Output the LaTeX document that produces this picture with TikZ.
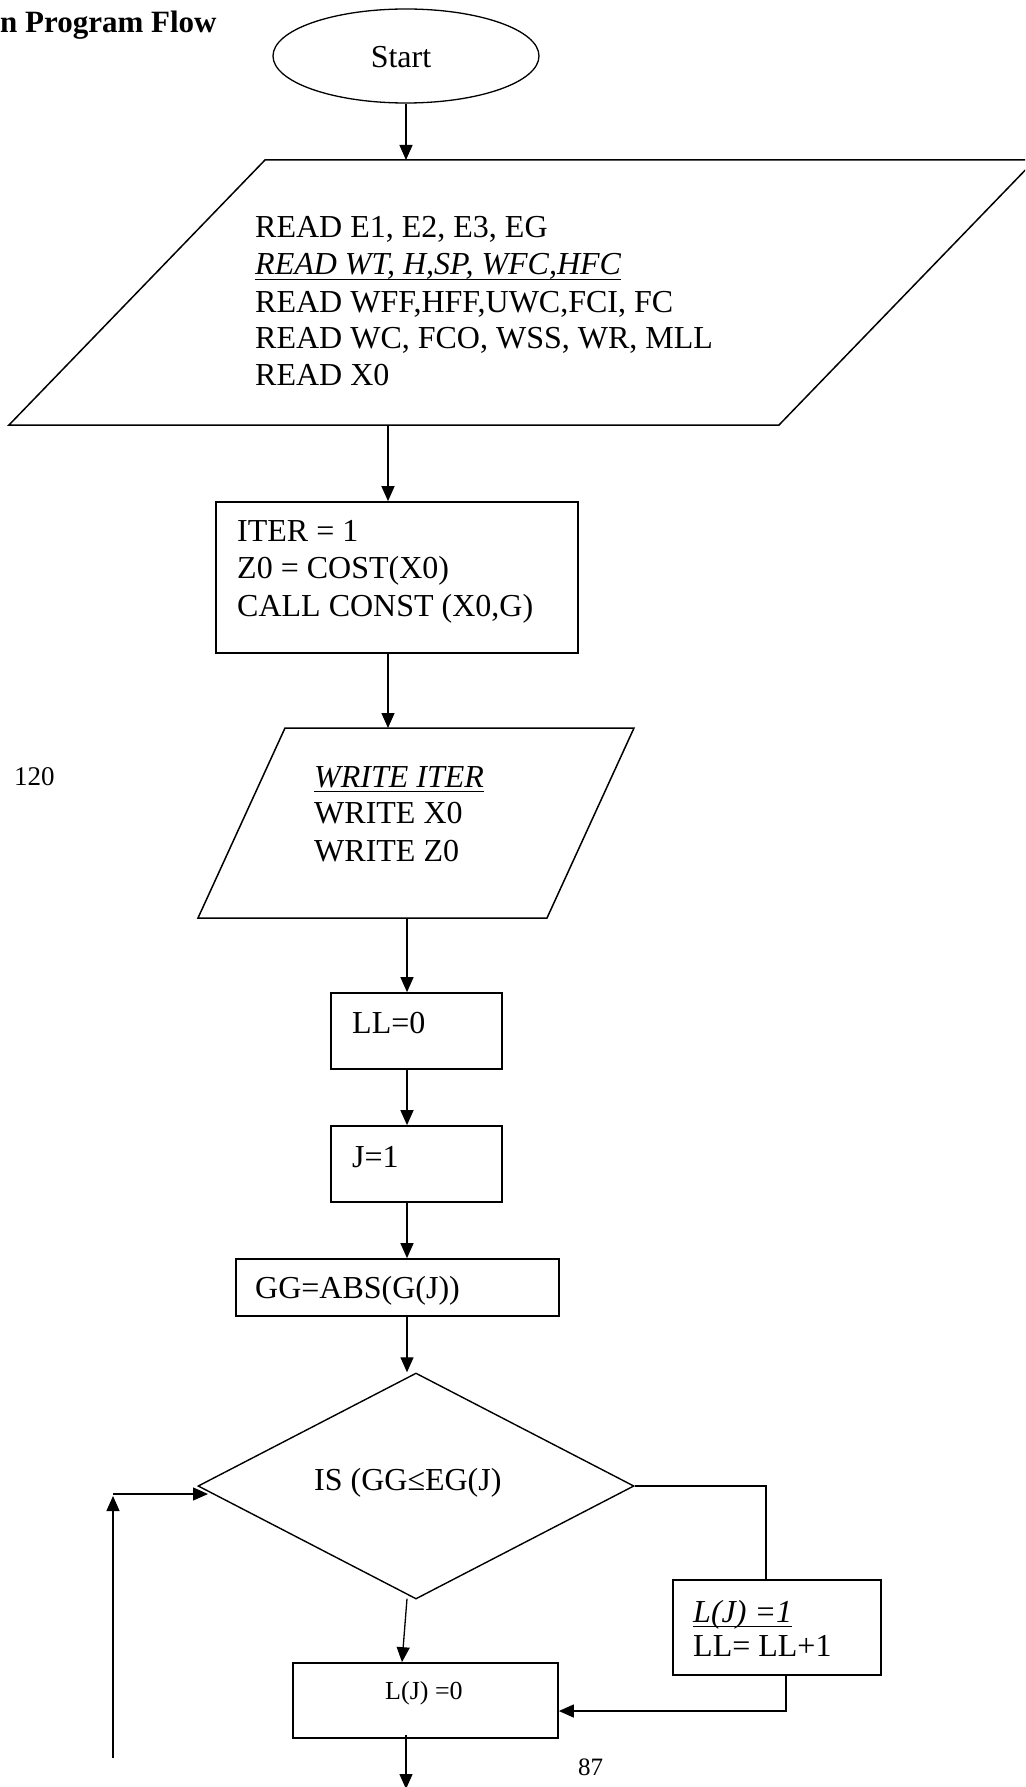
\documentclass[tikz,border=0pt]{standalone}
\usepackage{fontspec}
\setmainfont{Liberation Serif}
\usetikzlibrary{arrows.meta,shapes.geometric}
\newcommand\myul[1]{\underline{\smash{#1}\rule[-2.5pt]{0pt}{1pt}}}
\begin{document}
\begin{tikzpicture}[x=1pt,y=-1pt,
  boxst/.style={draw,line width=1.7pt,rectangle,inner sep=0pt},
  lineto/.style={line width=1.3pt},
  arr/.style={line width=1.3pt,-{Triangle[length=15pt,width=13pt]}},
  txt/.style={anchor=base west,inner sep=0pt,font=\fontsize{32}{37}\selectfont},
  smalltxt/.style={anchor=base west,inner sep=0pt,font=\fontsize{26}{30}\selectfont}]
\clip (0,0) rectangle (1025,1787);
% title
\node[anchor=base west,inner sep=0pt,font=\fontsize{31}{36}\selectfont\bfseries] (title) at (0,33) {n Program Flow};
% start
\node[draw,ellipse,line width=1.3pt,minimum width=266pt,minimum height=94pt,inner sep=0pt] (start) at (406,56) {};
\node[anchor=base,inner sep=0pt,font=\fontsize{32}{37}\selectfont] (starttxt) at (401,68) {Start};
% read parallelogram
\draw[line width=1.5pt] (265,160) -- (1035,160) -- (779,425) -- (9,425) -- cycle;
\coordinate (rdin) at (406,160);
\coordinate (rdout) at (388,425);
\node[txt] (r1) at (255,238) {READ E1, E2, E3, EG};
\node[txt] (r2) at (255,275) {\myul{\itshape READ WT, H,SP, WFC,HFC}};
\node[txt] (r3) at (255,312) {READ WFF,HFF,UWC,FCI, FC};
\node[txt] (r4) at (255,348) {READ WC, FCO, WSS, WR, MLL};
\node[txt] (r5) at (255,385) {READ X0};
% ITER box
\node[boxst,minimum width=362pt,minimum height=151pt] (iter) at (397,577.5) {};
\node[txt] (i1) at (237,541) {ITER = 1};
\node[txt] (i2) at (237,578) {Z0 = COST(X0)};
\node[txt] (i3) at (237,616) {CALL CONST (X0,G)};
% write parallelogram
\draw[line width=1.5pt] (285,728) -- (634,728) -- (547,918) -- (198,918) -- cycle;
\coordinate (wrin) at (388,728);
\coordinate (wrout) at (407,918);
\node[txt] (w1) at (314,787) {\myul{\itshape WRITE ITER}};
\node[txt] (w2) at (314,823) {WRITE X0};
\node[txt] (w3) at (314,861) {WRITE Z0};
\node[anchor=base west,inner sep=0pt,font=\fontsize{27}{31}\selectfont] (n120) at (14,785) {120};
% LL box
\node[boxst,minimum width=171pt,minimum height=76pt] (ll) at (416.5,1031) {};
\node[txt] (lltxt) at (352,1033) {LL=0};
% J box
\node[boxst,minimum width=171pt,minimum height=76pt] (jb) at (416.5,1164) {};
\node[txt] (jtxt) at (352,1167) {J=1};
% GG box
\node[boxst,minimum width=323pt,minimum height=57pt] (gg) at (397.5,1287.5) {};
\node[txt] (ggtxt) at (255,1298) {GG=ABS(G(J))};
% diamond
\node[draw,diamond,line width=1.4pt,minimum width=436pt,minimum height=226pt,inner sep=0pt] (dia) at (416,1486) {};
\node[txt] (diatxt) at (314,1490) {IS (GG≤EG(J)};
% L(J)=1 box
\node[boxst,minimum width=208pt,minimum height=95pt] (l1) at (777,1627.5) {};
\node[txt] (l1a) at (693,1622) {\myul{\itshape L(J) =1}};
\node[txt] (l1b) at (693,1656) {LL= LL+1};
% L(J)=0 box
\node[boxst,minimum width=265pt,minimum height=75pt] (l0) at (425.5,1700.5) {};
\node[smalltxt] (l0txt) at (385,1699) {L(J) =0};
\node[anchor=base west,inner sep=0pt,font=\fontsize{25}{29}\selectfont] (n87) at (578,1775) {87};
% connectors
\draw[arr] (start.south) -- (rdin);
\draw[arr] (rdout) -- (rdout |- iter.north);
\draw[arr] (iter.south -| rdout) -- (wrin);
\draw[arr] (wrout) -- (wrout |- ll.north);
\draw[arr] (ll.south -| wrout) -- (jb.north -| wrout);
\draw[arr] (jb.south -| wrout) -- (gg.north -| wrout);
\draw[arr] (gg.south -| wrout) -- (dia.north -| wrout);
\draw[lineto] (dia.east) -| ([xshift=-11pt]l1.north);
\draw[arr] ([xshift=9pt]l1.south) |- ([yshift=-10.5pt]l0.east);
\draw[arr] ([xshift=-9pt,yshift=1pt]dia.south) -- ([xshift=-23.5pt]l0.north);
\coordinate (bot) at (406,1789);
\draw[arr] ([xshift=-19.5pt,yshift=4pt]l0.south) -- (bot);
\coordinate (loopstart) at (113,1758);
\coordinate (loopcorner) at (113,1496);
\coordinate (loophz) at (113,1494);
\coordinate (loopend) at (208,1494);
\draw[arr] (loopstart) -- (loopcorner);
\draw[arr] (loophz) -- (loopend);
\end{tikzpicture}
\end{document}
